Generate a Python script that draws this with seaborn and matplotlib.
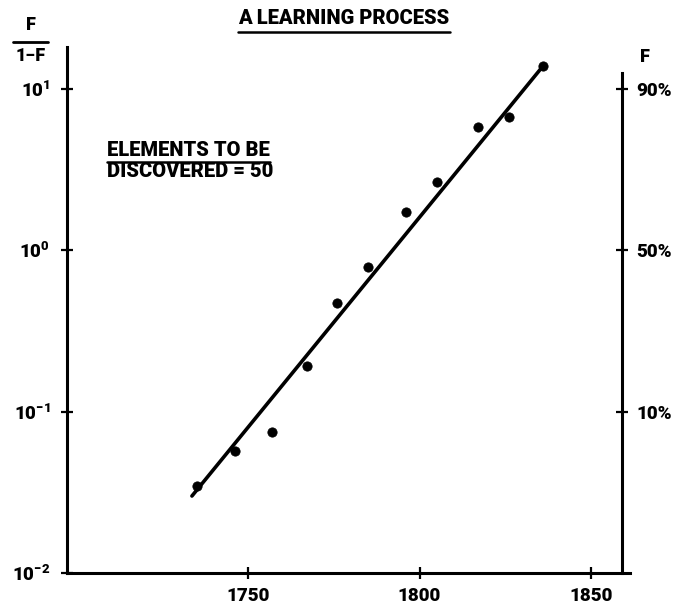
import numpy as np
import pandas as pd
import seaborn as sns
import matplotlib.pyplot as plt
from matplotlib.lines import Line2D

# data
years = [1735, 1746, 1757, 1767, 1776, 1785, 1796, 1805, 1817, 1826, 1836]
ratio = [0.0346, 0.0569, 0.0747, 0.191, 0.47, 0.785, 1.72, 2.64, 5.78, 6.66, 13.8]
fit_years = [1733.5, 1836]
fit_ratio = [0.030, 13.8]
left_ticks = [0.01, 0.1, 1, 10]
left_labels = [r'$\mathbf{10^{-2}}$', r'$\mathbf{10^{-1}}$', r'$\mathbf{10^{0}}$', r'$\mathbf{10^{1}}$']
right_ticks = [0.1, 1, 10]
right_labels = ['10%', '50%', '90%']
x_ticks = [1750, 1800, 1850]

sns.set_style('ticks')
plt.rcParams['font.family'] = ['Roboto', 'DejaVu Sans']
plt.rcParams['font.weight'] = 'black'
plt.rcParams['mathtext.fontset'] = 'custom'
plt.rcParams['mathtext.bf'] = 'Roboto:black'
plt.rcParams['mathtext.rm'] = 'Roboto:black'
for k in ['text.color', 'axes.edgecolor', 'xtick.color', 'ytick.color', 'axes.labelcolor']:
    plt.rcParams[k] = 'black'

fig = plt.figure(figsize=(6.76, 6.07), dpi=100)
ax = fig.add_axes([67 / 676, 34 / 607, (630 - 67) / 676, (573 - 47) / 607])

df = pd.DataFrame({'year': years, 'ratio': ratio})
fit = pd.DataFrame({'year': fit_years, 'ratio': fit_ratio})
sns.lineplot(data=fit, x='year', y='ratio', color='black', lw=2.6, ax=ax)
sns.scatterplot(data=df, x='year', y='ratio', color='black', s=45, edgecolor='black', ax=ax, zorder=3)

ax.set_yscale('log')
ax.set_xlim(1697, 1861.5)
ax.set_ylim(0.01, 18.2)
ax.set_xticks(x_ticks)
ax.set_xticklabels([str(t) for t in x_ticks])
ax.set_yticks(left_ticks)
ax.set_yticklabels(left_labels)
ax.yaxis.set_minor_locator(plt.NullLocator())
ax.set_xlabel('')
ax.set_ylabel('')
for s in ['top', 'right']:
    ax.spines[s].set_visible(False)
for s in ['left', 'bottom']:
    ax.spines[s].set_linewidth(2.2)
ax.tick_params(axis='both', direction='inout', length=8, width=1.6, labelsize=13.5, color='black')
ax.tick_params(axis='x', pad=6)
ax.tick_params(axis='y', pad=8)

ax2 = ax.twinx()
ax2.set_yscale('log')
ax2.set_ylim(ax.get_ylim())
ax2.set_yticks(right_ticks)
ax2.set_yticklabels(right_labels)
ax2.yaxis.set_minor_locator(plt.NullLocator())
for s in ['top', 'left', 'bottom']:
    ax2.spines[s].set_visible(False)
ax2.spines['right'].set_position(('data', 1859.2))
ax2.spines['right'].set_bounds(0.01, 12.6)
ax2.spines['right'].set_linewidth(2.2)
ax2.tick_params(axis='y', direction='inout', length=8, width=1.6, labelsize=13.5, pad=6)

# texts
title = fig.text(344 / 676, 1 - 19 / 607, 'A LEARNING PROCESS', ha='center', va='center',
                 fontsize=14.5)
el1 = fig.text(107 / 676, 1 - 151 / 607, 'ELEMENTS TO BE', ha='left', va='center',
               fontsize=14.5)
fig.text(107 / 676, 1 - 171 / 607, 'DISCOVERED = 50', ha='left', va='center',
         fontsize=14.5)
fig.text(31 / 676, 1 - 25 / 607, 'F', ha='center', va='center', fontsize=13)
fig.text(31 / 676, 1 - 56 / 607, '1\u2212F', ha='center', va='center', fontsize=13)
fig.lines.append(Line2D([13 / 676, 48 / 676], [1 - 42 / 607] * 2, color='black', lw=2,
                        transform=fig.transFigure))
fig.text(645 / 676, 1 - 57 / 607, 'F', ha='center', va='center', fontsize=13)

# underline title and label
fig.canvas.draw()
r = fig.canvas.get_renderer()
for t, gap in [(title, 3), (el1, 1)]:
    bb = t.get_window_extent(r).transformed(fig.transFigure.inverted())
    y = bb.y0 - gap / 607
    fig.lines.append(Line2D([bb.x0, bb.x1], [y, y], color='black', lw=1.8,
                            transform=fig.transFigure))

fig.savefig('out.png', dpi=100)
